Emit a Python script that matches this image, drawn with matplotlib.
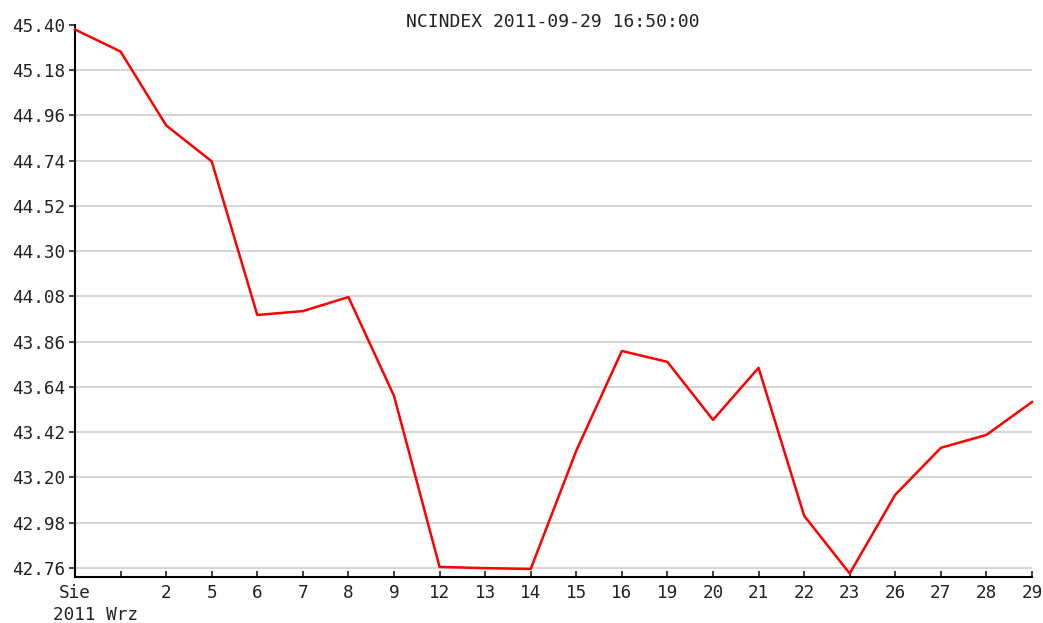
import numpy as np
import matplotlib.pyplot as plt

plt.rcParams.update({'font.family': 'DejaVu Sans Mono',
                     'font.size': 12.7})

# sesje: koniec sierpnia + wrzesien 2011
labels = ['Sie', '', '2', '5', '6', '7', '8', '9', '12', '13', '14',
          '15', '16', '19', '20', '21', '22', '23', '26', '27', '28', '29']
values = [45.378, 45.271, 44.912, 44.737, 43.990, 44.009, 44.077, 43.597,
          42.765, 42.759, 42.755, 43.330, 43.815, 43.762, 43.480, 43.733,
          43.014, 42.733, 43.116, 43.344, 43.407, 43.567]
yticks = [42.76, 42.98, 43.20, 43.42, 43.64, 43.86, 44.08, 44.30,
          44.52, 44.74, 44.96, 45.18, 45.40]
title = 'NCINDEX 2011-09-29 16:50:00'
x_sub = '2011 Wrz'

fig = plt.figure(figsize=(10.43, 6.23), dpi=100)
ax = fig.add_axes([75/1043, (623-577)/623, (1032-75)/1043, (577-25)/623])

x = np.arange(len(values))
ax.plot(x, values, color='#ff0000', lw=1.8, zorder=3, clip_on=False)

ax.set_xlim(0, len(values) - 1)
ax.set_ylim(42.716, 45.40)
ax.set_xticks(x)
ax.set_xticklabels(labels)
ax.set_yticks(yticks)
ax.set_yticklabels(['%.2f' % v for v in yticks])
ax.yaxis.grid(True, color='#d0d0d0', lw=1.2)
ax.get_ygridlines()[-1].set_visible(False)  # brak linii na samej gorze
ax.set_axisbelow(True)

for side in ['top', 'right']:
    ax.spines[side].set_visible(False)
for side in ['left', 'bottom']:
    ax.spines[side].set_linewidth(1.5)
    ax.spines[side].set_color('black')
ax.tick_params(axis='x', direction='in', length=4, width=1.2, pad=5, colors='#222222')
ax.tick_params(axis='y', direction='out', length=4, width=1.2, pad=3, colors='#222222')

fig.text(553/1043, 1 - 22/623, title, ha='center', va='center', fontsize=13, color='#222222')
fig.text(53/1043, 1 - 615/623, x_sub, ha='left', va='center', fontsize=12.7, color='#222222')

fig.savefig('out.png', dpi=100)
